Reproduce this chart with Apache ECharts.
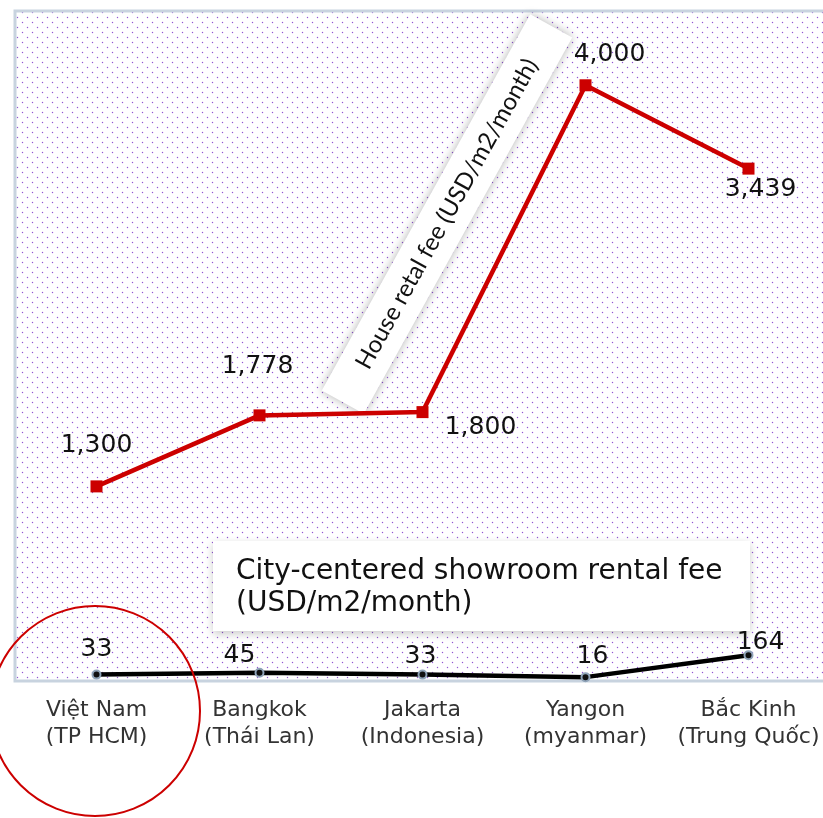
<!DOCTYPE html>
<html><head><meta charset="utf-8">
<script src="https://cdn.jsdelivr.net/npm/echarts@6/dist/echarts.min.js"></script>
<style>html,body{margin:0;padding:0;background:#fff}#c{width:823px;height:818px}</style>
</head><body><div id="c"></div>
<script>
const categories = ['Việt Nam\n(TP HCM)', 'Bangkok\n(Thái Lan)', 'Jakarta\n(Indonesia)', 'Yangon\n(myanmar)', 'Bắc Kinh\n(Trung Quốc)'];
const houseRent = [1300, 1778, 1800, 4000, 3439];
const showroomRent = [33, 45, 33, 16, 164];
const houseTitle = 'House retal fee (USD/m2/month)';
const showroomTitle = 'City-centered showroom rental fee\n(USD/m2/month)';

// label placement (layout only)
const houseLabelOffsets = [[0, -41], [-2, -49], [58, 15], [24, -31], [12, 21]];
const showLabelOffsets = [[0, -25], [-20, -17], [-2, -18], [7, -21], [12, -13]];

const pc = document.createElement('canvas');
pc.width = 10; pc.height = 10;
const pctx = pc.getContext('2d');
function dot(x, y) {
  pctx.fillStyle = 'rgba(170,120,220,0.15)';
  pctx.fillRect(x - 1, y, 3, 1);
  pctx.fillRect(x, y - 1, 1, 3);
  pctx.fillStyle = '#9457d2';
  pctx.fillRect(x, y, 1, 1);
}
dot(2, 2);
dot(7, 7);

const fmt = v => Number(v).toLocaleString('en-US');
const labelFont = { fontFamily: 'DejaVu Sans', fontSize: 25, color: '#111' };

const chart = echarts.init(document.getElementById('c'), null, { renderer: 'canvas' });
chart.setOption({
  animation: false,
  grid: {
    left: 15, top: 11, width: 815, height: 670, show: true,
    outerBoundsMode: 'none', containLabel: false,
    backgroundColor: { image: pc, repeat: 'repeat' },
    borderColor: '#c8d3df', borderWidth: 3
  },
  xAxis: {
    type: 'category', data: categories, boundaryGap: true,
    axisLine: { show: false }, axisTick: { show: false }, splitLine: { show: false },
    axisLabel: { interval: 0, fontFamily: 'DejaVu Sans', fontSize: 22, color: '#333', lineHeight: 27, margin: 16 }
  },
  yAxis: { type: 'value', min: -10, max: 4500, show: false, splitLine: { show: false } },
  series: [
    {
      type: 'line', z: 3,
      data: houseRent.map((v, i) => ({ value: v, label: { offset: houseLabelOffsets[i] } })),
      symbol: 'rect', symbolSize: 12,
      lineStyle: { color: '#cc0000', width: 4.5 },
      itemStyle: { color: '#cc0000' },
      label: Object.assign({ show: true, position: 'inside', formatter: p => fmt(p.value) }, labelFont)
    },
    {
      type: 'line', z: 3,
      data: showroomRent.map((v, i) => ({ value: v, label: { offset: showLabelOffsets[i] } })),
      symbol: 'circle', symbolSize: 8,
      lineStyle: { color: '#000', width: 4.5 },
      itemStyle: { color: '#111', borderColor: '#8fa3b8', borderWidth: 2 },
      label: Object.assign({ show: true, position: 'inside', formatter: p => fmt(p.value) }, labelFont)
    }
  ],
  graphic: [
    {
      type: 'group', x: 447, y: 214, rotation: 61 * Math.PI / 180, z: 1,
      children: [
        { type: 'rect', shape: { x: -215, y: -24, width: 430, height: 48 },
          style: { fill: '#fff', shadowBlur: 10, shadowColor: 'rgba(0,0,0,0.3)' } },
        { type: 'text', x: 0, y: 0,
          style: { text: houseTitle, font: '24px Lato', fill: '#111', align: 'center', verticalAlign: 'middle', textAlign: 'center', textVerticalAlign: 'middle' } }
      ]
    },
    { type: 'rect', z: 1, shape: { x: 213, y: 541, width: 537, height: 90 },
      style: { fill: '#fff', shadowBlur: 8, shadowColor: 'rgba(0,0,0,0.2)', shadowOffsetY: 3 } },
    { type: 'text', z: 1, x: 236, y: 556,
      style: { text: showroomTitle, font: '28px "DejaVu Sans"', lineHeight: 32, fill: '#111', verticalAlign: 'top', textVerticalAlign: 'top' } },
    { type: 'circle', z: 10, shape: { cx: 95, cy: 711, r: 105 },
      style: { fill: 'none', stroke: '#cc0000', lineWidth: 2 } }
  ]
});
</script>
</body></html>
